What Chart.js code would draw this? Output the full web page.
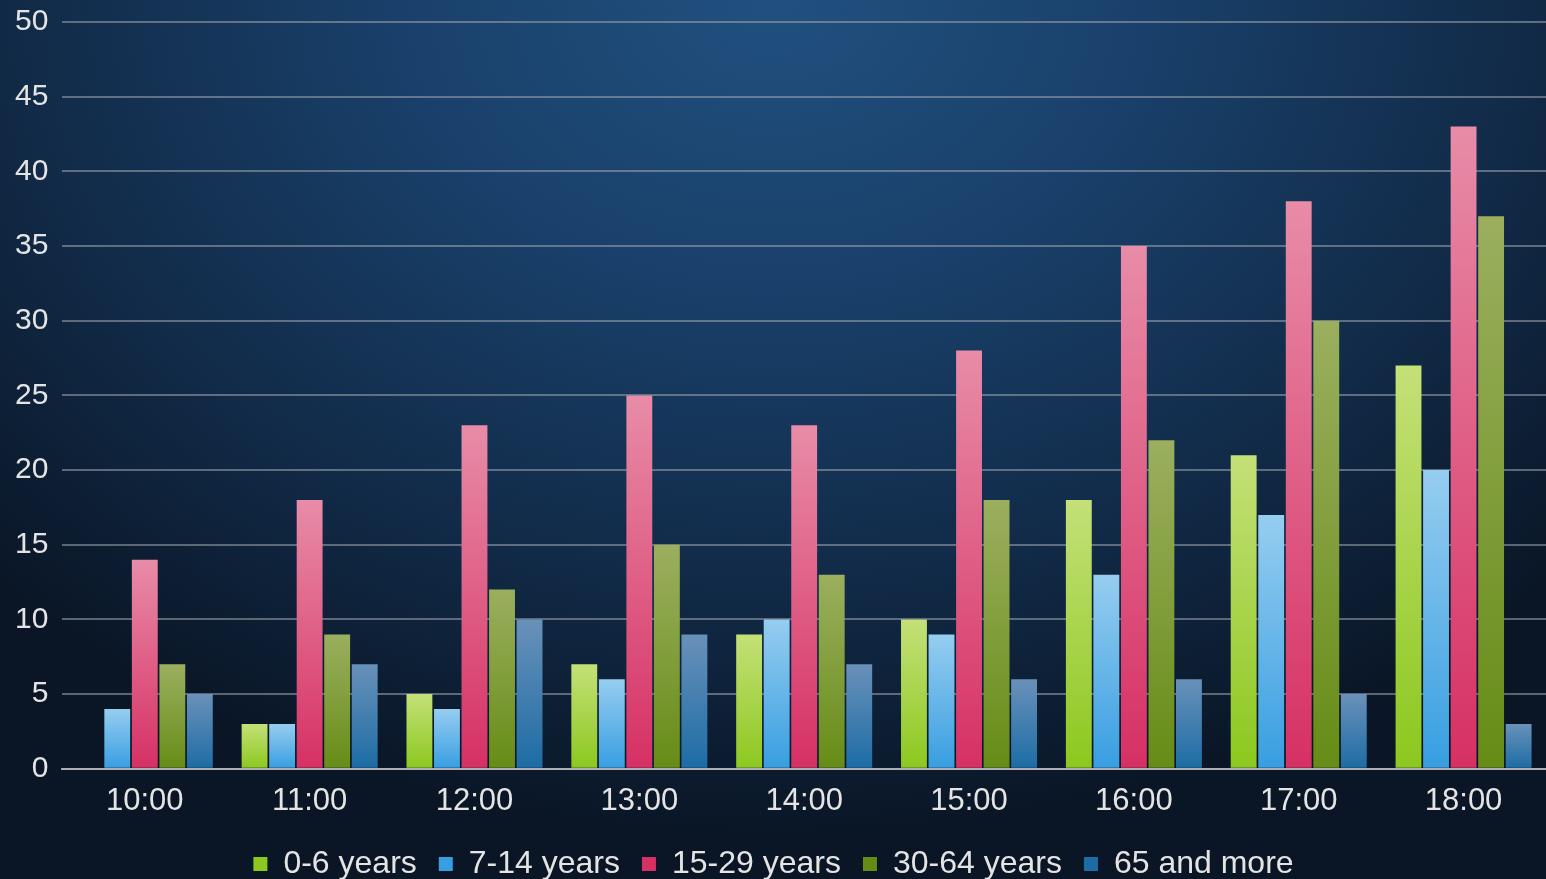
<!DOCTYPE html>
<html>
<head>
<meta charset="utf-8">
<script src="https://cdn.jsdelivr.net/npm/chart.js@4.4.1/dist/chart.umd.min.js"></script>
<style>
    html, body { margin: 0; padding: 0; width: 100%; height: 100%; overflow: hidden; }
    body {
        background-color: #122a45;
        background-image: radial-gradient(ellipse 70% 95% at 50% 0%, #21507f 0%, #19406a 35%, #112a47 70%, #0a1626 100%);
    }
    #wrap { position: absolute; left: 0; top: 0; width: 1546px; height: 879px; }
</style>
</head>
<body>
<div id="wrap"><canvas id="visitorsChart"></canvas></div>
<script>
const hours = ["10:00", "11:00", "12:00", "13:00", "14:00", "15:00", "16:00", "17:00", "18:00"];
const ages0to6 = [0, 3, 5, 7, 9, 10, 18, 21, 27];
const ages7to14 = [4, 3, 4, 6, 10, 9, 13, 17, 20];
const ages15to29 = [14, 18, 23, 25, 23, 28, 35, 38, 43];
const ages30to64 = [7, 9, 12, 15, 13, 18, 22, 30, 37];
const ages65plus = [5, 7, 10, 9, 7, 6, 6, 5, 3];
const yTicks = [0, 5, 10, 15, 20, 25, 30, 35, 40, 45, 50];

// top colour, bottom colour for each series
const palette = [
    ['rgb(196,224,120)', 'rgb(140,200,30)'],
    ['rgb(150,205,240)', 'rgb(55,158,225)'],
    ['rgb(232,140,168)', 'rgb(214,48,100)'],
    ['rgb(155,175,95)', 'rgb(102,140,22)'],
    ['rgb(105,145,185)', 'rgb(28,108,165)']
];

function barFill(idx) {
    return function (ctx) {
        const chart = ctx.chart;
        const y = chart.scales.y;
        if (!chart.chartArea || !y || ctx.raw === undefined) return palette[idx][1];
        const top = y.getPixelForValue(ctx.raw);
        const bottom = y.getPixelForValue(0);
        if (!isFinite(top) || bottom - top < 1) return palette[idx][1];
        const g = chart.ctx.createLinearGradient(0, top, 0, bottom);
        g.addColorStop(0, palette[idx][0]);
        g.addColorStop(1, palette[idx][1]);
        return g;
    };
}

const names = ["0-6 years", "7-14 years", "15-29 years", "30-64 years", "65 and more"];
const series = [ages0to6, ages7to14, ages15to29, ages30to64, ages65plus];
const fontFamily = 'Liberation Sans, Arial, sans-serif';

let visitorsData = {
    labels: hours,
    datasets: series.map((vals, i) => ({
        label: names[i],
        data: vals,
        backgroundColor: barFill(i),
        borderWidth: 0,
        categoryPercentage: 0.835,
        barPercentage: 0.94
    }))
};

let visitorsOptions = {
    responsive: true,
    maintainAspectRatio: false,
    animation: false,
    layout: { padding: { top: 22, right: 0, left: 1, bottom: -11 } },
    scales: {
        x: {
            grid: { display: false },
            border: { display: true, color: 'rgba(200,200,200,0.75)', width: 2 },
            ticks: { color: '#e4e4e4', font: { size: 31, family: fontFamily }, padding: 6 }
        },
        y: {
            min: 0,
            max: 50,
            afterBuildTicks: axis => { axis.ticks = yTicks.map(v => ({ value: v })); },
            afterFit: axis => { axis.paddingTop = 0; },
            grid: { color: 'rgba(160,165,175,0.55)', lineWidth: 2, drawTicks: false },
            border: { display: false },
            ticks: { color: '#e4e4e4', font: { size: 30, family: fontFamily }, padding: 14 }
        }
    },
    plugins: {
        legend: {
            position: 'bottom',
            labels: {
                color: '#e4e4e4',
                font: { size: 32, family: fontFamily },
                boxWidth: 14,
                boxHeight: 14,
                padding: 22,
                generateLabels: chart => chart.data.datasets.map((ds, i) => ({
                    text: ds.label,
                    fillStyle: palette[i][1],
                    strokeStyle: palette[i][1],
                    lineWidth: 0,
                    fontColor: '#e4e4e4',
                    datasetIndex: i
                }))
            }
        },
        tooltip: { enabled: false }
    }
};

let visitorsChart = new Chart(document.getElementById('visitorsChart'), {
    type: 'bar',
    data: visitorsData,
    options: visitorsOptions
});
</script>
</body>
</html>
